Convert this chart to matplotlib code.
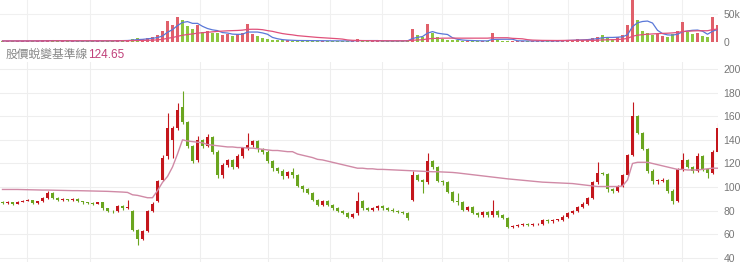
import numpy as np
import pandas as pd
import matplotlib
matplotlib.use("Agg")
import matplotlib.pyplot as plt

plt.rcParams['font.family'] = ['Liberation Sans', 'Noto Sans CJK TC']

# 日K資料 (由圖讀取的估計值)
opens = [87, 86.5, 87, 86, 87.5, 88, 89, 86.5, 88, 91,
         95, 91, 89, 89.5, 89, 90, 88, 87, 86.5, 86,
         87, 82, 80, 79.5, 84, 82, 80, 64, 56, 63,
         80, 88, 106, 126, 140, 150, 168, 155, 135, 123,
         140, 135, 142, 130, 110, 119, 123, 117, 126, 133,
         136, 139, 132, 130, 122, 116, 114, 109, 113, 110,
         101, 98, 95, 89, 85, 88, 85, 82, 80, 78,
         75, 78, 88, 82, 80.5, 82, 84, 82, 81, 80,
         79, 78, 89, 110, 106, 104, 122, 117, 105, 104,
         96, 88, 87, 81, 83, 78, 76, 79, 76, 80,
         76, 74, 66, 67, 68, 69, 68, 68.5, 69, 72,
         71, 72, 72, 75, 78, 80, 83, 86, 91, 104,
         112, 111, 98, 97, 101, 110, 127, 160, 146, 132,
         114, 105, 105, 106, 97, 88, 115, 123, 117, 114,
         126, 115, 112, 130]
closes = [86.5, 87, 86, 87.5, 88, 89, 86.5, 88, 91, 95,
          91, 89, 89.5, 89, 90, 88, 87, 86.5, 86, 87,
          82, 80, 79.5, 84, 82, 83, 64, 56, 63, 80,
          86, 105, 125, 150, 150, 165, 155, 135, 122, 140,
          135, 142, 130, 110, 119, 123, 117, 126, 133, 136,
          139, 132, 130, 122, 116, 114, 109, 113, 110, 101,
          98, 95, 89, 85, 88, 85, 82, 80, 78, 75,
          77, 88, 82, 80.5, 82, 84, 82, 81, 80, 79,
          78, 74, 110, 106, 104, 122, 117, 105, 104, 96,
          88, 87, 81, 83, 78, 76, 79, 76, 80, 76,
          74, 66, 67, 68, 69, 68, 68.5, 69, 72, 71,
          72, 72, 75, 78, 80, 83, 86, 91, 104, 112,
          111, 98, 97, 101, 110, 127, 160, 146, 132, 114,
          105, 105, 106, 97, 88, 115, 123, 117, 114, 126,
          115, 112, 130, 150]
highs = [88, 88, 87.5, 88, 89, 90, 89.5, 88.5, 92, 97,
         95.5, 91.5, 90.5, 90, 91, 90.5, 88.5, 87.5, 87, 87.5,
         87.5, 82.5, 80.5, 85, 85, 89, 80.5, 64.5, 64, 81,
         87, 106, 127, 163, 152, 171, 181, 156, 136, 143,
         141, 145, 143, 131, 120, 124, 124, 128, 134, 146,
         140, 140, 133, 131, 123, 117, 115, 114, 116, 111,
         102, 99, 96, 90, 89, 89, 86, 83, 81, 79,
         78, 96, 89, 83, 83, 85, 85, 83, 82, 81,
         80, 79, 114, 111, 107, 129, 123, 118, 106, 105,
         97, 95, 88, 84, 84, 79, 80, 80, 89, 81,
         77, 75, 67.5, 69, 70, 70, 69.5, 70, 73, 73,
         73, 73, 76, 79, 81, 84, 87, 92, 105, 121,
         113, 112, 99, 102, 111, 128, 172, 161, 147, 133,
         115, 107, 108, 107, 98, 116, 129, 124, 118, 129,
         127, 116, 131, 154]
lows = [85.5, 86, 85, 85.5, 87, 88, 85.5, 86, 87.5, 90,
        90, 88, 88.5, 88, 88.5, 87, 86, 85.5, 85, 85.5,
        81, 79, 78.5, 79, 81, 81.5, 63, 51, 55, 62,
        79, 87, 105, 124, 125, 148, 153, 133, 120, 121,
        133, 134, 128, 108, 108, 117, 115, 116, 125, 131,
        134, 130, 128, 120, 114, 112, 107, 108, 108, 100,
        96, 94, 88, 84, 84, 84, 81, 79, 77, 74,
        74, 76, 81, 79.5, 79.5, 81, 81, 80, 79, 78,
        77, 72, 88, 105, 95, 103, 115, 104, 102, 95,
        87, 85, 80, 80, 77, 75, 75, 75, 75, 75,
        73, 65, 65, 66, 67, 67, 67, 68, 68, 70,
        70, 71, 71, 74, 77, 79, 82, 85, 90, 103,
        110, 96, 95, 96, 100, 109, 126, 145, 131, 112,
        103, 103, 104, 95, 86, 87, 114, 116, 112, 113,
        114, 108, 111, 129]

# 股價蛻變基準線
baseline = [98, 98, 98, 98, 97.9, 97.8, 97.7, 97.6, 97.5, 97.5,
            97.4, 97.3, 97.2, 97.1, 97, 97, 96.9, 96.8, 96.7, 96.6,
            96.5, 96.4, 96.2, 96, 95.8, 95.5, 93.5, 93, 92, 91,
            91, 97, 104, 109, 117, 128, 140, 139, 138.5, 138,
            137.5, 136, 135.5, 135, 134.5, 134, 134, 133.5, 133.5, 133,
            133, 132.5, 132, 131.5, 131, 131, 130.5, 130, 130, 128,
            127, 126, 125, 123.5, 123, 122, 121, 120, 119, 118,
            117, 116, 116, 115.5, 115.5, 115, 115, 114.8, 114.6, 114.4,
            114.2, 114, 113.8, 113.6, 113.4, 113.2, 113, 113, 112.8, 112.6,
            112.4, 112, 111.5, 111, 110.5, 110, 109.5, 109, 108.5, 108,
            107.5, 107, 106.6, 106.2, 105.8, 105.4, 105, 104.6, 104.2, 104,
            103.8, 103.6, 103.4, 103.2, 103, 102.5, 102, 101.5, 101, 100.5,
            100.5, 100.5, 100.5, 100.5, 101, 106, 120, 121, 121, 121,
            120, 119, 118, 117, 116, 115, 115, 114.5, 114.5, 114.5,
            115, 115.5, 116, 116]

# 成交量 (千張)
volume = [1, 1, 1.5, 1, 1, 1.5, 1, 1, 2, 2.5,
          1.5, 1, 1, 1, 1, 1, 1, 1, 1, 1,
          1.5, 1.5, 1, 2, 1.5, 3, 5, 6, 4, 6,
          8, 12, 20, 38, 30, 45, 40, 28, 22, 30,
          18, 20, 16, 15, 12, 14, 10, 14, 16, 32,
          14, 10, 6, 4, 3, 2, 2, 2, 1.5, 1.5,
          1.5, 1, 1, 1, 1, 1, 1, 1, 1, 1,
          1, 4, 1.5, 1, 1, 1, 1, 1, 1, 1,
          1, 2, 22, 12, 8, 32, 16, 8, 5, 3,
          2, 2, 1.5, 1.5, 1, 1, 1, 1, 15, 2,
          1.5, 1, 1, 1, 1, 1, 1, 1, 1, 1,
          1, 1, 3, 2, 3, 4, 3, 5, 6, 8,
          12, 6, 5, 8, 12, 30, 80, 40, 20, 16,
          12, 14, 10, 8, 14, 20, 36, 18, 14, 16,
          10, 8, 45, 30]

date_ticks = [4.9, 17.5, 39.5, 53.1, 65.5, 75.9, 87.9, 101.1, 113.1, 124.1, 135.9]
date_labels = ["2017", "10/15 2017", "12/12 2017", "2018", "3/01 2018", "2018", "6/01 2018",
               "2019", "3/01 2019", "2019", "2020"]
price_ticks = [40, 60, 80, 100, 120, 140, 160, 180, 200]

o = np.array(opens); c = np.array(closes)
h = np.array(highs); l = np.array(lows)
x = np.arange(len(closes))
up = c >= o
RED, GREEN = "#c4161c", "#6aa51f"
colors = np.where(up, RED, GREEN)

fig = plt.figure(figsize=(7.4, 2.68), dpi=100)
W, H = 740, 268
xl = (-0.5, 143.1)

# 成交量
axv = fig.add_axes([0, 1 - 41.5 / H, 718 / W, 41.5 / H])
vcol = np.where(up, "#e0606a", "#8cc63f")
axv.bar(x, volume, width=0.55, color=vcol, zorder=2)
vs = pd.Series(volume)
axv.plot(x, vs.rolling(5, min_periods=1).mean(), color="#5a78d8", lw=0.9, zorder=3)
axv.plot(x, vs.rolling(20, min_periods=1).mean(), color="#e0507a", lw=0.9, zorder=3)
axv.set_xlim(*xl)
axv.set_ylim(0, 75.5)
axv.set_xticks(date_ticks)
axv.set_yticks([0, 50])
axv.set_yticklabels(["0", "50k"])
axv.yaxis.tick_right()
axv.tick_params(axis='y', length=0, labelsize=7.5, labelcolor="#777777", pad=4)
axv.tick_params(axis='x', length=0, labelbottom=False)
axv.grid(True, color="#f0f0f0", lw=0.8, zorder=0)
for s in axv.spines.values():
    s.set_visible(False)

fig.text(6 / W, 1 - 55 / H, "股價蛻變基準線", fontsize=8.5, color="#888888", va='center')
fig.text(88 / W, 1 - 55 / H, "124.65", fontsize=8.5, color="#c0407a", va='center')

# K線
ax = fig.add_axes([0, 1 - 262 / H, 718 / W, 200 / H])
ax.vlines(x, l, h, color=colors, lw=0.8, zorder=2)
body_lo = np.minimum(o, c)
body_h = np.maximum(np.abs(c - o), 0.6)
ax.bar(x, body_h, bottom=body_lo, width=0.55, color=colors, zorder=3)
ax.plot(x, baseline, color="#d08aa6", lw=1.0, zorder=4)
ax.set_xlim(*xl)
ax.set_ylim(36.6, 205.9)
ax.set_yticks(price_ticks)
ax.yaxis.tick_right()
ax.tick_params(axis='y', length=0, labelsize=7.5, labelcolor="#777777", pad=4)
ax.set_xticks(date_ticks)
ax.set_xticklabels(date_labels)
ax.tick_params(axis='x', length=0, labelsize=7.5, labelcolor="#777777", pad=4)
ax.grid(True, color="#eeeeee", lw=0.8, zorder=0)
for s in ax.spines.values():
    s.set_visible(False)

fig.savefig("out.png", dpi=100)
